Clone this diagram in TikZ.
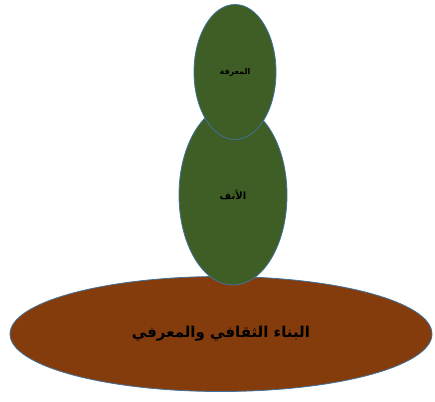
\documentclass[tikz,border=0pt]{standalone}
\usepackage{fontspec}
\usetikzlibrary{shapes.geometric}
\TeXXeTstate=1
\newfontfamily\arabicfont[Script=Arabic]{DejaVu Sans}
\definecolor{leafgreen}{RGB}{62,94,38}
\definecolor{soilbrown}{RGB}{132,60,12}
\definecolor{rimblue}{RGB}{65,113,156}

\begin{document}
\begin{tikzpicture}[x=1pt, y=-1pt,
  blob/.style={ellipse, draw=rimblue, line width=0.8pt, inner sep=0pt,
    font=\arabicfont\bfseries, text=black}]
  \useasboundingbox (0,0) rectangle (435,401);

  \node[blob, fill=soilbrown, minimum width=422, minimum height=115,
    font=\arabicfont\bfseries\fontsize{15}{18}\selectfont]
    (ground) at (221,334) {\beginR البناء الثقافي والمعرفي\endR};

  \node[blob, fill=leafgreen, minimum width=108, minimum height=180,
    font=\arabicfont\bfseries\fontsize{10}{12}\selectfont]
    (trunk) at (233,195) {\beginR الأنف\endR};

  \node[blob, fill=leafgreen, minimum width=82, minimum height=135,
    font=\arabicfont\bfseries\fontsize{8}{10}\selectfont]
    (crown) at (235,72) {\beginR المعرفة\endR};
\end{tikzpicture}
\end{document}
